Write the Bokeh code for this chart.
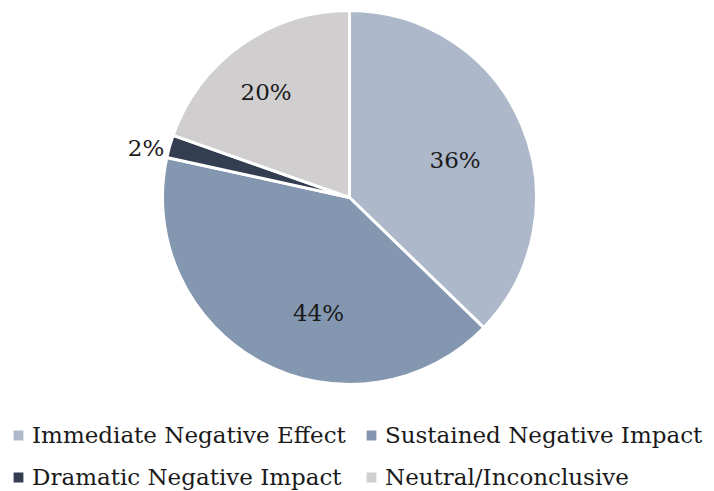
import math
from bokeh.plotting import figure
from bokeh.models import Range1d, Legend, LegendItem, ColumnDataSource
from bokeh.core.properties import value
from bokeh.embed import file_html
from bokeh.resources import INLINE

# ---- data ----
categories = ["Immediate Negative Effect", "Sustained Negative Impact",
              "Dramatic Negative Impact", "Neutral/Inconclusive"]
counts = [19, 21, 1, 10]
pct_labels = ["36%", "44%", "2%", "20%"]
colors = ["#adb9ca", "#8497b0", "#333f50", "#d0cece"]

# ---- layout (styling, not data) ----
W, H = 706, 491
cx, cy, R = 349, -197, 187
label_angle_deg = [70.3, 195.0, 283.8, 321.7]
label_r_frac = [0.60, 0.64, 1.12, 0.72]

total = sum(counts)
starts, ends = [], []
cum = 0.0
for c in counts:
    a0 = math.pi / 2 - 2 * math.pi * cum / total
    cum += c
    a1 = math.pi / 2 - 2 * math.pi * cum / total
    starts.append(a0)
    ends.append(a1)

src = ColumnDataSource(dict(cat=categories, start=starts, end=ends, color=colors,
                            x=[cx] * 4, y=[cy] * 4))

p = figure(width=W, height=H, output_backend="svg", toolbar_location=None,
           x_range=Range1d(0, W), y_range=Range1d(-H, 0),
           min_border=0, min_border_left=0, min_border_right=0,
           min_border_top=0, min_border_bottom=0)
p.axis.visible = False
p.grid.visible = False
p.outline_line_color = None
p.background_fill_color = "white"

r = p.wedge(x="x", y="y", radius=R, start_angle="start", end_angle="end",
            direction="clock", fill_color="color", line_color="white",
            line_width=3, source=src)

lx, ly = [], []
for ang, fr in zip(label_angle_deg, label_r_frac):
    t = math.radians(ang)
    lx.append(cx + fr * R * math.sin(t))
    ly.append(cy + fr * R * math.cos(t))
p.text(x=lx, y=ly, text=pct_labels, text_align="center", text_baseline="middle",
       text_font=value("DejaVu Serif"), text_font_size="23px", text_color="#1a1a1a")

order = [0, 2, 1, 3]  # row-major display in a column-major legend grid
items = [LegendItem(label=categories[i], renderers=[r], index=i) for i in order]
legend = Legend(items=items, ncols=2, location=(10, 1),
                glyph_width=16, glyph_height=16, label_standoff=6,
                label_height=24, spacing=16, label_width=315,
                label_text_font="DejaVu Serif", label_text_font_size="23px",
                label_text_color="#1a1a1a", padding=0, margin=0,
                border_line_alpha=0, background_fill_alpha=0)
p.add_layout(legend, "center")

open("out.html", "w").write(file_html(p, INLINE))
